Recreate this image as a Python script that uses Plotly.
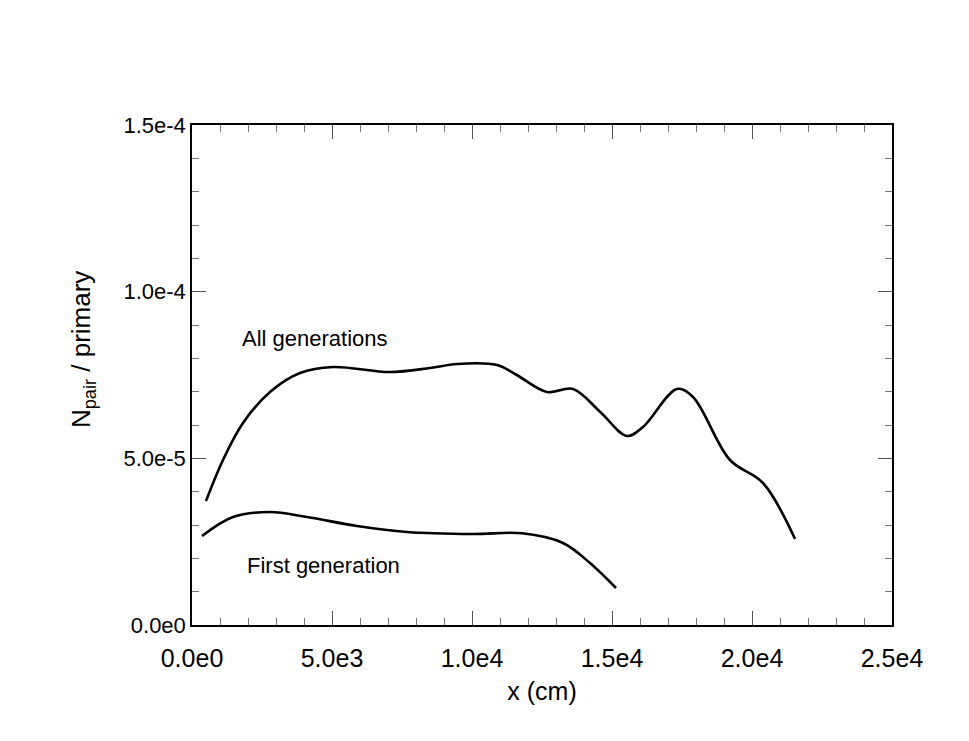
import plotly.graph_objects as go

# All generations curve
all_x = [500, 1107, 1821, 2786, 3857, 5036, 7071, 8500, 9464, 10893, 11600, 12679,
         13607, 14571, 15536, 16107, 17321, 17893, 19214, 20393, 21536]
all_y = [3.72e-5, 4.95e-5, 6.06e-5, 6.99e-5, 7.56e-5, 7.74e-5, 7.59e-5, 7.71e-5, 7.83e-5,
         7.80e-5, 7.50e-5, 6.99e-5, 7.08e-5, 6.40e-5, 5.67e-5, 5.94e-5, 7.08e-5, 6.84e-5,
         4.95e-5, 4.26e-5, 2.58e-5]

# First generation curve
first_x = [357, 1464, 2786, 4107, 5893, 7679, 10036, 11800, 13250, 14214, 15143]
first_y = [2.67e-5, 3.24e-5, 3.39e-5, 3.24e-5, 2.97e-5, 2.79e-5, 2.73e-5, 2.75e-5,
           2.46e-5, 1.86e-5, 1.11e-5]

x_ticks = [0, 5000, 10000, 15000, 20000, 25000]
x_labels = ["0.0e0", "5.0e3", "1.0e4", "1.5e4", "2.0e4", "2.5e4"]
y_ticks = [0, 5e-5, 1e-4, 1.5e-4]
y_labels = ["0.0e0", "5.0e-5", "1.0e-4", "1.5e-4"]

FONT = "Liberation Sans, Arial"

fig = go.Figure()
fig.add_trace(go.Scatter(x=all_x, y=all_y, mode="lines",
                         line=dict(color="black", width=2.6, shape="spline", smoothing=1.0)))
fig.add_trace(go.Scatter(x=first_x, y=first_y, mode="lines",
                         line=dict(color="black", width=2.6, shape="spline", smoothing=1.0)))

fig.add_annotation(x=4400, y=8.6e-5, text="All generations", showarrow=False,
                   font=dict(size=22, color="black", family=FONT))
fig.add_annotation(x=4700, y=1.8e-5, text="First generation", showarrow=False,
                   font=dict(size=22, color="black", family=FONT))
# y-axis title
fig.add_annotation(xref="paper", yref="paper", x=-0.157, y=0.55, textangle=-90,
                   xanchor="center", yanchor="middle",
                   text="N<sub>pair</sub> / primary", showarrow=False,
                   font=dict(size=26, color="black", family=FONT))

axis_common = dict(showline=True, linecolor="black", linewidth=1.5, mirror="allticks",
                   ticks="inside", ticklen=14, tickcolor="#555555", tickwidth=1.2,
                   showgrid=False, zeroline=False)

fig.update_xaxes(range=[0, 25000], tickvals=x_ticks, ticktext=x_labels,
                 tickfont=dict(size=25, color="black", family=FONT),
                 ticklabelstandoff=10,
                 title=dict(text="x (cm)", font=dict(size=25, color="black", family=FONT),
                            standoff=12),
                 minor=dict(ticks="inside", ticklen=7, dtick=1000, tickcolor="#777777",
                            tickwidth=1, showgrid=False),
                 **axis_common)
fig.update_yaxes(range=[0, 1.5e-4], tickvals=y_ticks, ticktext=y_labels,
                 tickfont=dict(size=22, color="black", family=FONT),
                 minor=dict(ticks="inside", ticklen=7, dtick=1e-5, tickcolor="#777777",
                            tickwidth=1, showgrid=False),
                 **axis_common)

fig.update_layout(width=969, height=741, showlegend=False,
                  plot_bgcolor="white", paper_bgcolor="white",
                  font=dict(family=FONT, color="black"),
                  margin=dict(l=184, r=85, t=117, b=124))

fig.write_html("out.html")
